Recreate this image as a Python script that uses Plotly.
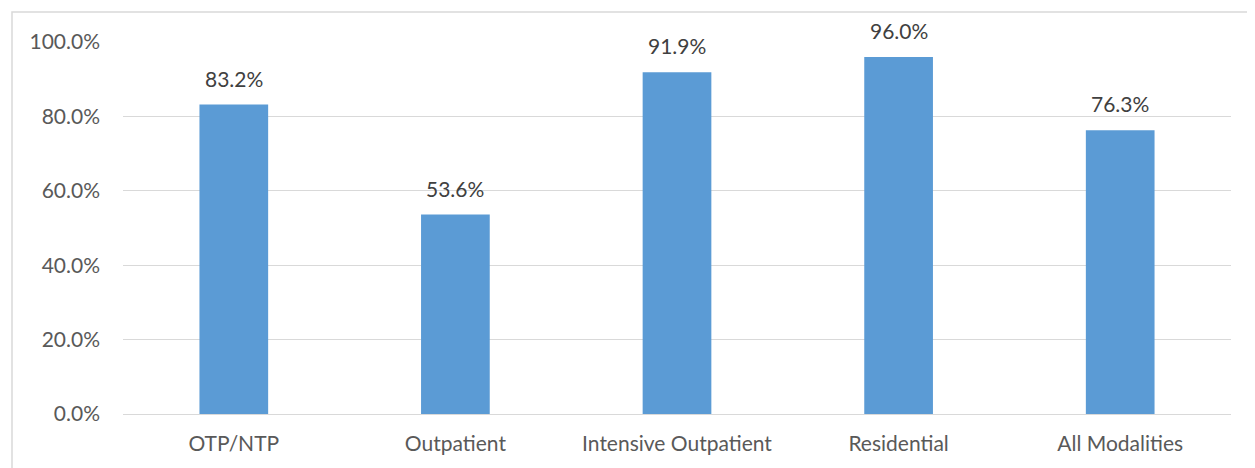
import plotly.graph_objects as go

categories = ["OTP/NTP", "Outpatient", "Intensive Outpatient", "Residential", "All Modalities"]
values = [83.2, 53.6, 91.9, 96.0, 76.3]
tick_vals = [0, 20, 40, 60, 80, 100]
tick_text = ["0.0%", "20.0%", "40.0%", "60.0%", "80.0%", "100.0%"]

FONT = "Lato, Carlito, Calibri, sans-serif"
FS = 21

fig = go.Figure()
fig.add_trace(go.Bar(
    x=categories, y=values, marker=dict(color="#5B9BD5", line=dict(width=0)),
    width=0.31, hoverinfo="skip",
))

for c, v in zip(categories, values):
    fig.add_annotation(x=c, y=v, text=f"{v:.1f}%", showarrow=False,
                       yanchor="bottom", yshift=12,
                       font=dict(family=FONT, size=FS, color="#404040"))

# page body has an 8px margin, so the figure is offset by 8px
fig.update_layout(
    width=1247, height=460,
    margin=dict(l=115, r=24, t=34, b=54),
    paper_bgcolor="white", plot_bgcolor="white",
    showlegend=False,
    font=dict(family=FONT, size=FS, color="#595959"),
    shapes=[dict(type="rect", xref="paper", yref="paper",
                 x0=-111/1108, y0=-1.3, x1=1.5, y1=(372+30)/372,
                 line=dict(color="#d9d9d9", width=1.5), fillcolor="rgba(0,0,0,0)",
                 layer="below")],
)
fig.update_xaxes(showgrid=False, showline=False, zeroline=False, ticks="",
                 ticklabelstandoff=15, tickfont=dict(family=FONT, size=FS, color="#595959"))
fig.update_yaxes(range=[0, 100], tickvals=tick_vals, ticktext=tick_text,
                 showgrid=True, gridcolor="#d9d9d9", gridwidth=1.3,
                 zeroline=True, zerolinecolor="#d9d9d9", zerolinewidth=1.3,
                 showline=False, ticks="", ticklabelstandoff=22,
                 tickfont=dict(family=FONT, size=FS, color="#595959"))

fig.write_html("out.html")
